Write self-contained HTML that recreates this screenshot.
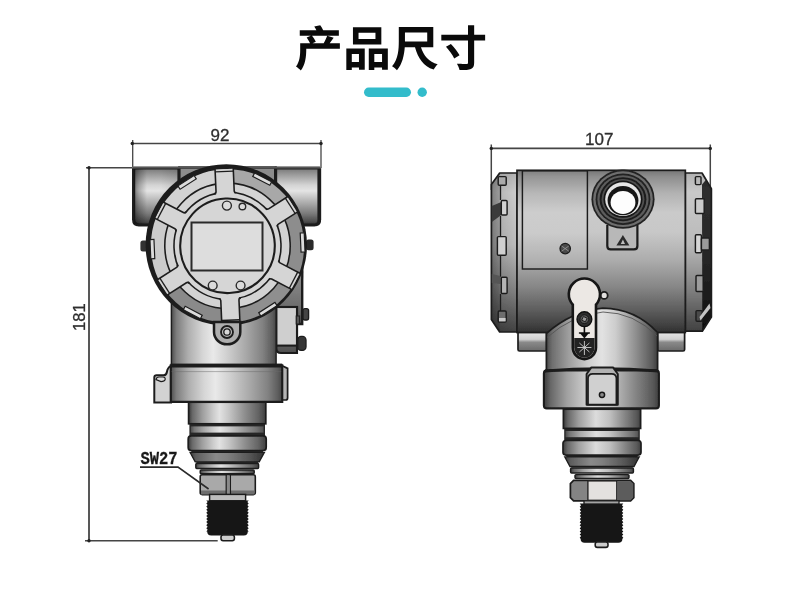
<!DOCTYPE html>
<html><head><meta charset="utf-8"><title>产品尺寸</title>
<style>
html,body{margin:0;padding:0;background:#fff;}
body{width:790px;height:609px;overflow:hidden;font-family:"Liberation Sans",sans-serif;}
svg{display:block}
</style></head><body>
<svg width="790" height="609" viewBox="0 0 790 609">
<defs><linearGradient id="cyl" x1="0" y1="0" x2="1" y2="0"><stop offset="0" stop-color="#4e4e4e"/><stop offset="0.05" stop-color="#7d7d7d"/><stop offset="0.16" stop-color="#aeaeae"/><stop offset="0.3" stop-color="#d6d6d6"/><stop offset="0.4" stop-color="#e9e9e9"/><stop offset="0.52" stop-color="#d2d2d2"/><stop offset="0.72" stop-color="#a6a6a6"/><stop offset="0.87" stop-color="#828282"/><stop offset="0.96" stop-color="#5e5e5e"/><stop offset="1" stop-color="#464646"/></linearGradient><linearGradient id="cyl2" x1="0" y1="0" x2="1" y2="0"><stop offset="0" stop-color="#3a3a3a"/><stop offset="0.05" stop-color="#686868"/><stop offset="0.18" stop-color="#9e9e9e"/><stop offset="0.32" stop-color="#cccccc"/><stop offset="0.4" stop-color="#e2e2e2"/><stop offset="0.52" stop-color="#c6c6c6"/><stop offset="0.72" stop-color="#909090"/><stop offset="0.9" stop-color="#646464"/><stop offset="1" stop-color="#404040"/></linearGradient><linearGradient id="portL" x1="0" y1="0" x2="1" y2="0"><stop offset="0" stop-color="#3c3c3c"/><stop offset="0.07" stop-color="#6e6e6e"/><stop offset="0.2" stop-color="#b8b8b8"/><stop offset="0.32" stop-color="#e2e2e2"/><stop offset="0.5" stop-color="#c2c2c2"/><stop offset="0.8" stop-color="#9a9a9a"/><stop offset="1" stop-color="#8c8c8c"/></linearGradient><linearGradient id="portR" x1="0" y1="0" x2="1" y2="0"><stop offset="0" stop-color="#9a9a9a"/><stop offset="0.25" stop-color="#d2d2d2"/><stop offset="0.4" stop-color="#d8d8d8"/><stop offset="0.65" stop-color="#a0a0a0"/><stop offset="0.88" stop-color="#5c5c5c"/><stop offset="1" stop-color="#3a3a3a"/></linearGradient><linearGradient id="portV" x1="0" y1="0" x2="0" y2="1"><stop offset="0" stop-color="rgba(0,0,0,0.18)"/><stop offset="0.15" stop-color="rgba(0,0,0,0)"/><stop offset="0.8" stop-color="rgba(0,0,0,0)"/><stop offset="1" stop-color="rgba(0,0,0,0.45)"/></linearGradient><linearGradient id="cover" x1="0" y1="0" x2="1" y2="0"><stop offset="0" stop-color="#c9c9c9"/><stop offset="0.5" stop-color="#c4c4c4"/><stop offset="0.75" stop-color="#a4a4a4"/><stop offset="1" stop-color="#8a8a8a"/></linearGradient><linearGradient id="pocket" x1="0" y1="0" x2="1" y2="0"><stop offset="0" stop-color="#d2d2d2"/><stop offset="0.45" stop-color="#cdcdcd"/><stop offset="0.7" stop-color="#a8a8a8"/><stop offset="1" stop-color="#878787"/></linearGradient><linearGradient id="bodyV" x1="0" y1="0" x2="0" y2="1"><stop offset="0" stop-color="#6a6a6a"/><stop offset="0.04" stop-color="#8c8c8c"/><stop offset="0.15" stop-color="#b4b4b4"/><stop offset="0.3" stop-color="#cfcfcf"/><stop offset="0.42" stop-color="#c6c6c6"/><stop offset="0.6" stop-color="#9c9c9c"/><stop offset="0.8" stop-color="#666"/><stop offset="0.95" stop-color="#3c3c3c"/><stop offset="1" stop-color="#2e2e2e"/></linearGradient><linearGradient id="capV" x1="0" y1="0" x2="0" y2="1"><stop offset="0" stop-color="#777"/><stop offset="0.1" stop-color="#a2a2a2"/><stop offset="0.3" stop-color="#c4c4c4"/><stop offset="0.5" stop-color="#b0b0b0"/><stop offset="0.8" stop-color="#707070"/><stop offset="1" stop-color="#444"/></linearGradient><linearGradient id="nutL" x1="0" y1="0" x2="1" y2="0"><stop offset="0" stop-color="#8c8c8c"/><stop offset="0.45" stop-color="#b4b4b4"/><stop offset="0.5" stop-color="#9c9c9c"/><stop offset="1" stop-color="#a6a6a6"/></linearGradient><linearGradient id="neckR" x1="0" y1="0" x2="1" y2="0"><stop offset="0" stop-color="#3c3c3c"/><stop offset="0.06" stop-color="#686868"/><stop offset="0.2" stop-color="#a0a0a0"/><stop offset="0.42" stop-color="#dcdcdc"/><stop offset="0.6" stop-color="#c0c0c0"/><stop offset="0.8" stop-color="#848484"/><stop offset="0.95" stop-color="#585858"/><stop offset="1" stop-color="#404040"/></linearGradient><linearGradient id="portV2" x1="0" y1="0" x2="0" y2="1"><stop offset="0" stop-color="#767676"/><stop offset="0.12" stop-color="#9c9c9c"/><stop offset="0.3" stop-color="#d4d4d4"/><stop offset="0.4" stop-color="#e4e4e4"/><stop offset="0.55" stop-color="#bcbcbc"/><stop offset="0.8" stop-color="#7a7a7a"/><stop offset="0.94" stop-color="#4c4c4c"/><stop offset="1" stop-color="#2c2c2c"/></linearGradient><linearGradient id="portSideL" x1="0" y1="0" x2="1" y2="0"><stop offset="0" stop-color="rgba(0,0,0,0.45)"/><stop offset="0.1" stop-color="rgba(0,0,0,0.25)"/><stop offset="0.28" stop-color="rgba(0,0,0,0)"/><stop offset="0.6" stop-color="rgba(0,0,0,0)"/><stop offset="1" stop-color="rgba(0,0,0,0.10)"/></linearGradient><linearGradient id="portSideR" x1="0" y1="0" x2="1" y2="0"><stop offset="0" stop-color="rgba(0,0,0,0.1)"/><stop offset="0.3" stop-color="rgba(0,0,0,0)"/><stop offset="0.6" stop-color="rgba(0,0,0,0.05)"/><stop offset="0.88" stop-color="rgba(0,0,0,0.36)"/><stop offset="1" stop-color="rgba(0,0,0,0.55)"/></linearGradient><linearGradient id="hbandV" x1="0" y1="0" x2="0" y2="1"><stop offset="0" stop-color="#7c7c7c"/><stop offset="0.5" stop-color="#8c8c8c"/><stop offset="0.8" stop-color="#707070"/><stop offset="1" stop-color="#505050"/></linearGradient><linearGradient id="tboxB" x1="0" y1="0" x2="0" y2="1"><stop offset="0" stop-color="#a2a2a2"/><stop offset="1" stop-color="#4e4e4e"/></linearGradient><linearGradient id="taperH" x1="0" y1="0" x2="1" y2="0"><stop offset="0" stop-color="#3a3a3a"/><stop offset="0.08" stop-color="#5e5e5e"/><stop offset="0.35" stop-color="#8a8a8a"/><stop offset="0.5" stop-color="#808080"/><stop offset="0.8" stop-color="#565656"/><stop offset="1" stop-color="#333"/></linearGradient><linearGradient id="bodyV2" x1="0" y1="0" x2="0" y2="1"><stop offset="0" stop-color="#767676"/><stop offset="0.04" stop-color="#8e8e8e"/><stop offset="0.14" stop-color="#b2b2b2"/><stop offset="0.26" stop-color="#cacaca"/><stop offset="0.38" stop-color="#c8c8c8"/><stop offset="0.55" stop-color="#adadad"/><stop offset="0.72" stop-color="#868686"/><stop offset="0.86" stop-color="#5e5e5e"/><stop offset="0.95" stop-color="#424242"/><stop offset="1" stop-color="#303030"/></linearGradient><linearGradient id="capL" x1="0" y1="0" x2="1" y2="0"><stop offset="0" stop-color="#808080"/><stop offset="0.3" stop-color="#9a9a9a"/><stop offset="0.36" stop-color="#b8b8b8"/><stop offset="1" stop-color="#cdcdcd"/></linearGradient><linearGradient id="capShade" x1="0" y1="0" x2="0" y2="1"><stop offset="0" stop-color="rgba(0,0,0,0.12)"/><stop offset="0.12" stop-color="rgba(0,0,0,0)"/><stop offset="0.45" stop-color="rgba(0,0,0,0.08)"/><stop offset="0.75" stop-color="rgba(0,0,0,0.38)"/><stop offset="1" stop-color="rgba(0,0,0,0.68)"/></linearGradient><linearGradient id="footV" x1="0" y1="0" x2="0" y2="1"><stop offset="0" stop-color="#9a9a9a"/><stop offset="0.12" stop-color="#e2e2e2"/><stop offset="0.4" stop-color="#d0d0d0"/><stop offset="0.55" stop-color="#8a8a8a"/><stop offset="1" stop-color="#6a6a6a"/></linearGradient><linearGradient id="domeH" x1="0" y1="0" x2="1" y2="0"><stop offset="0" stop-color="#4a4a4a"/><stop offset="0.05" stop-color="#6e6e6e"/><stop offset="0.2" stop-color="#9e9e9e"/><stop offset="0.38" stop-color="#cfcfcf"/><stop offset="0.5" stop-color="#e2e2e2"/><stop offset="0.62" stop-color="#cdcdcd"/><stop offset="0.8" stop-color="#909090"/><stop offset="0.95" stop-color="#5a5a5a"/><stop offset="1" stop-color="#3e3e3e"/></linearGradient><filter id="soft" x="-2%" y="-2%" width="104%" height="104%"><feGaussianBlur stdDeviation="0.45"/></filter></defs>
<rect width="790" height="609" fill="#ffffff"/>
<path transform="translate(294.85,65.7) scale(0.0481,-0.0475)" d="M403 824C419 801 435 773 448 746H102V632H332L246 595C272 558 301 510 317 472H111V333C111 231 103 87 24 -16C51 -31 105 -78 125 -102C218 17 237 205 237 331V355H936V472H724L807 589L672 631C656 583 626 518 599 472H367L436 503C421 540 388 592 357 632H915V746H590C577 778 552 822 527 854Z" fill="#0a0a0a"/>
<path transform="translate(342.95,65.7) scale(0.0481,-0.0475)" d="M324 695H676V561H324ZM208 810V447H798V810ZM70 363V-90H184V-39H333V-84H453V363ZM184 76V248H333V76ZM537 363V-90H652V-39H813V-85H933V363ZM652 76V248H813V76Z" fill="#0a0a0a"/>
<path transform="translate(391.05,65.7) scale(0.0481,-0.0475)" d="M161 816V517C161 357 151 138 21 -9C49 -24 103 -69 123 -94C235 33 273 226 285 390H498C563 156 672 -6 887 -82C905 -48 942 4 970 29C784 85 676 214 622 390H878V816ZM289 699H752V507H289V517Z" fill="#0a0a0a"/>
<path transform="translate(439.15,65.7) scale(0.0481,-0.0475)" d="M142 397C210 322 285 218 313 150L424 219C392 290 313 388 245 459ZM600 849V649H45V529H600V69C600 46 590 38 566 38C539 38 454 37 370 41C391 6 416 -55 424 -92C530 -93 611 -88 661 -68C710 -48 728 -13 728 68V529H956V649H728V849Z" fill="#0a0a0a"/>
<rect x="364" y="87.6" width="47" height="9.4" rx="4.7" fill="#33bccb"/>
<circle cx="422.2" cy="92.2" r="4.7" fill="#33bccb"/>
<g filter="url(#soft)"><line x1="132.3" y1="143.5" x2="321" y2="143.5" stroke="#454545" stroke-width="1.7"/>
<line x1="132.7" y1="140" x2="132.7" y2="168" stroke="#454545" stroke-width="1.3"/>
<line x1="321" y1="140" x2="321" y2="168" stroke="#454545" stroke-width="1.3"/>
<circle cx="132.3" cy="143.5" r="1.7" fill="#222"/><circle cx="321" cy="143.5" r="1.7" fill="#222"/>
<text x="220" y="140.5" font-family="&quot;Liberation Sans&quot;, sans-serif" font-size="17" font-weight="normal" text-anchor="middle" fill="#2e2e2e" stroke="#2e2e2e" stroke-width="0.3">92</text>
<line x1="89" y1="167.8" x2="89" y2="540.8" stroke="#454545" stroke-width="1.8"/>
<line x1="86" y1="167.8" x2="133" y2="167.8" stroke="#454545" stroke-width="1.5"/>
<line x1="85" y1="540.8" x2="217.7" y2="540.8" stroke="#454545" stroke-width="1.5"/>
<circle cx="89" cy="167.8" r="1.7" fill="#222"/><circle cx="89" cy="540.8" r="1.7" fill="#222"/>
<text x="84.8" y="317.2" font-family="&quot;Liberation Sans&quot;, sans-serif" font-size="16.6" font-weight="normal" text-anchor="middle" fill="#2e2e2e" stroke="#2e2e2e" stroke-width="0.3" transform="rotate(-90 84.8 317.2)">181</text>
<rect x="179" y="167" width="97" height="40" fill="#8c8c8c" stroke="#1e1e1e" stroke-width="1.58"/>
<path d="M133.6 168 H179 V225 H139 Q133.6 225 133.6 219.6 Z" fill="url(#portV2)" stroke="#1e1e1e" stroke-width="3.17" stroke-linejoin="round"/>
<path d="M275.6 168 H319.6 V219.6 Q319.6 225 314.2 225 H275.6 Z" fill="url(#portV2)" stroke="#1e1e1e" stroke-width="3.17" stroke-linejoin="round"/>
<rect x="134.6" y="169" width="44" height="55" fill="url(#portSideL)"/>
<rect x="317.4" y="168" width="3.4" height="54" fill="#1e1e1e"/>
<rect x="132.4" y="166.9" width="188.4" height="1.6" fill="#fff"/>
<line x1="132.4" y1="168" x2="320.8" y2="168" stroke="#1e1e1e" stroke-width="1.45"/>
<path d="M276 225 H298 Q303 250 302.2 280 V324 H276 Z" fill="url(#hbandV)" stroke="#1e1e1e" stroke-width="2.38"/>
<rect x="140.4" y="240.6" width="8" height="11" rx="2.5" fill="#333"/>
<rect x="306" y="239.4" width="7.6" height="10.8" rx="2.5" fill="#2a2a2a"/>
<rect x="303" y="308.6" width="5.6" height="11.4" rx="2" fill="#444" stroke="#1e1e1e" stroke-width="1.32"/>
<rect x="297.6" y="336.4" width="8.4" height="14" rx="3.6" fill="#363636" stroke="#1e1e1e" stroke-width="1.32"/>
<path d="M276.4 307 H297 V353 H281 Q276.4 353 276.4 348.5 Z" fill="url(#tboxB)" stroke="#1e1e1e" stroke-width="2.11"/>
<rect x="276.4" y="307" width="20.6" height="38.6" fill="#cfcfcf" stroke="#1e1e1e" stroke-width="2.11"/>
<rect x="296.2" y="316" width="3.4" height="8" fill="#555" stroke="#1e1e1e" stroke-width="1.06"/>
<rect x="171.4" y="296" width="104.7" height="70" fill="url(#cyl)" stroke="#1e1e1e" stroke-width="1.45"/>
<circle cx="226.3" cy="244.9" r="80.7" fill="#1c1c1c"/>
<g transform="translate(227.5,245.8) rotate(-2.5)">
<circle r="77.4" fill="#c8c8c8"/>
<path d="M0 0 L-0.68 -77.40 A77.4 77.4 0 0 1 67.37 -38.11 Z" fill="#a8a8a8"/>
<path d="M0 0 L66.69 -39.28 A77.4 77.4 0 0 1 66.69 39.28 Z" fill="#8d8d8d"/>
<path d="M0 0 L67.37 38.11 A77.4 77.4 0 0 1 -0.68 77.40 Z" fill="#8f8f8f"/>
<path d="M0 0 L0.68 77.40 A77.4 77.4 0 0 1 -67.37 38.11 Z" fill="#8a8a8a"/>
<path d="M0 0 L-66.69 39.28 A77.4 77.4 0 0 1 -66.69 -39.28 Z" fill="#cbcbcb"/>
<path d="M0 0 L-67.37 -38.11 A77.4 77.4 0 0 1 0.68 -77.40 Z" fill="#d2d2d2"/>
<circle r="77.4" fill="none" stroke="#1e1e1e" stroke-width="1.72"/>
<circle r="62.7" fill="#d3d3d3" stroke="#1e1e1e" stroke-width="1.58"/>
<circle r="53.5" fill="#d5d5d5" stroke="#1e1e1e" stroke-width="1.58"/>
<g transform="rotate(0)"><rect x="-9.1" y="-76.80000000000001" width="18.2" height="29.400000000000006" fill="#d5d5d5"/><path d="M-9.1 -77.4 V-54.5 Q-9.1 -52.8 -11.1 -52.6 M9.1 -77.4 V-54.5 Q9.1 -52.8 11.1 -52.6" stroke="#1e1e1e" stroke-width="1.58" fill="none"/><path d="M-9.1 -74.4 H9.1" stroke="#1e1e1e" stroke-width="1.32"/></g>
<g transform="rotate(60)"><rect x="-9.1" y="-76.80000000000001" width="18.2" height="29.400000000000006" fill="#d5d5d5"/><path d="M-9.1 -77.4 V-54.5 Q-9.1 -52.8 -11.1 -52.6 M9.1 -77.4 V-54.5 Q9.1 -52.8 11.1 -52.6" stroke="#1e1e1e" stroke-width="1.58" fill="none"/><path d="M-9.1 -74.4 H9.1" stroke="#1e1e1e" stroke-width="1.32"/></g>
<g transform="rotate(120)"><rect x="-9.1" y="-76.80000000000001" width="18.2" height="29.400000000000006" fill="#d5d5d5"/><path d="M-9.1 -77.4 V-54.5 Q-9.1 -52.8 -11.1 -52.6 M9.1 -77.4 V-54.5 Q9.1 -52.8 11.1 -52.6" stroke="#1e1e1e" stroke-width="1.58" fill="none"/><path d="M-9.1 -74.4 H9.1" stroke="#1e1e1e" stroke-width="1.32"/></g>
<g transform="rotate(180)"><rect x="-9.1" y="-76.80000000000001" width="18.2" height="29.400000000000006" fill="#d5d5d5"/><path d="M-9.1 -77.4 V-54.5 Q-9.1 -52.8 -11.1 -52.6 M9.1 -77.4 V-54.5 Q9.1 -52.8 11.1 -52.6" stroke="#1e1e1e" stroke-width="1.58" fill="none"/><path d="M-9.1 -74.4 H9.1" stroke="#1e1e1e" stroke-width="1.32"/></g>
<g transform="rotate(240)"><rect x="-9.1" y="-76.80000000000001" width="18.2" height="29.400000000000006" fill="#d5d5d5"/><path d="M-9.1 -77.4 V-54.5 Q-9.1 -52.8 -11.1 -52.6 M9.1 -77.4 V-54.5 Q9.1 -52.8 11.1 -52.6" stroke="#1e1e1e" stroke-width="1.58" fill="none"/><path d="M-9.1 -74.4 H9.1" stroke="#1e1e1e" stroke-width="1.32"/></g>
<g transform="rotate(300)"><rect x="-9.1" y="-76.80000000000001" width="18.2" height="29.400000000000006" fill="#d5d5d5"/><path d="M-9.1 -77.4 V-54.5 Q-9.1 -52.8 -11.1 -52.6 M9.1 -77.4 V-54.5 Q9.1 -52.8 11.1 -52.6" stroke="#1e1e1e" stroke-width="1.58" fill="none"/><path d="M-9.1 -74.4 H9.1" stroke="#1e1e1e" stroke-width="1.32"/></g>
<g transform="rotate(30)"><rect x="-9.6" y="-77.2" width="19.2" height="4" fill="#dcdcdc" stroke="#1e1e1e" stroke-width="1.19"/></g>
<g transform="rotate(90)"><rect x="-9.6" y="-77.2" width="19.2" height="4" fill="#dcdcdc" stroke="#1e1e1e" stroke-width="1.19"/></g>
<g transform="rotate(150)"><rect x="-9.6" y="-77.2" width="19.2" height="4" fill="#dcdcdc" stroke="#1e1e1e" stroke-width="1.19"/></g>
<g transform="rotate(210)"><rect x="-9.6" y="-77.2" width="19.2" height="4" fill="#dcdcdc" stroke="#1e1e1e" stroke-width="1.19"/></g>
<g transform="rotate(270)"><rect x="-9.6" y="-77.2" width="19.2" height="4" fill="#dcdcdc" stroke="#1e1e1e" stroke-width="1.19"/></g>
<g transform="rotate(330)"><rect x="-9.6" y="-77.2" width="19.2" height="4" fill="#dcdcdc" stroke="#1e1e1e" stroke-width="1.19"/></g>
<circle r="47.3" fill="#d6d6d6" stroke="#1e1e1e" stroke-width="2.11"/>
</g>
<rect x="191.5" y="222.5" width="71" height="48" fill="#dddddd" stroke="#2a2a2a" stroke-width="2"/>
<circle cx="226.9" cy="205.6" r="4.5" fill="#dbdbdb" stroke="#2a2a2a" stroke-width="1.4"/>
<circle cx="242.4" cy="206.5" r="3.3" fill="#dbdbdb" stroke="#2a2a2a" stroke-width="1.4"/>
<circle cx="212.7" cy="285.5" r="4.4" fill="#dbdbdb" stroke="#2a2a2a" stroke-width="1.4"/>
<circle cx="240.6" cy="285.5" r="4.4" fill="#dbdbdb" stroke="#2a2a2a" stroke-width="1.4"/>
<path d="M214 322 V332 A13.1 12.3 0 0 0 240.3 332 V322 Z" fill="#aeaeae" stroke="#1e1e1e" stroke-width="2.51"/>
<circle cx="227" cy="332" r="6" fill="#b8b8b8" stroke="#1e1e1e" stroke-width="1.85"/><circle cx="227" cy="332" r="3.2" fill="#d8d8d8" stroke="#1e1e1e" stroke-width="1.32"/>
<path d="M154.3 377.6 Q154.3 375.3 156.6 375.3 H163.6 Q166.4 375.3 166.9 372 Q167.6 367.4 171 365.8 V402.4 H154.3 Z" fill="#d2d2d2" stroke="#1e1e1e" stroke-width="1.98"/>
<path d="M156 379.6 Q156.4 377 159 377 H163 Q165.4 377.2 165.2 379.4 Q164.6 381.6 161 381.6 Z" fill="#dcdcdc" stroke="#1e1e1e" stroke-width="1.19"/>
<path d="M281.6 365.4 L287.6 368.4 V398 Q287.6 400 285.6 400 H281.6 Z" fill="#b4b4b4" stroke="#1e1e1e" stroke-width="1.72"/>
<path d="M170.8 365.4 H282.2 V401.8 H170.8 Z" fill="url(#cyl)" stroke="#1e1e1e" stroke-width="2.24"/>
<rect x="170.6" y="363.6" width="111.6" height="3.9" fill="#1c1c1c"/>
<path d="M171.4 371.6 H281.4" fill="none" stroke="#6a6a6a" stroke-width="0.8" opacity="0.6"/>
<rect x="189.4" y="422.8" width="75.60000000000001" height="15" fill="#262626"/><rect x="188.6" y="402.2" width="77.2" height="21.6" fill="url(#cyl2)" stroke="#1e1e1e" stroke-width="1.72"/><rect x="190.79999999999998" y="426.40000000000003" width="72.8" height="6.2" fill="url(#cyl2)"/><rect x="190.79999999999998" y="426.40000000000003" width="72.8" height="6.2" fill="rgba(255,255,255,0.10)"/><path d="M190.6 449.90000000000003 L196.6 462.90000000000003 H257.8 L263.8 449.90000000000003 Z" fill="#262626"/><rect x="188.2" y="435.90000000000003" width="78.0" height="14.6" rx="3" fill="url(#cyl2)" stroke="#1e1e1e" stroke-width="1.72"/><path d="M190.0 452.30000000000007 L195.2 461.9000000000001 H259.2 L264.40000000000003 452.30000000000007 Z" fill="url(#taperH)" stroke="#1e1e1e" stroke-width="1.32"/><rect x="195.79999999999998" y="463.4000000000001" width="62.800000000000004" height="5" rx="1" fill="url(#cyl2)" stroke="#1e1e1e" stroke-width="1.45"/><rect x="200.2" y="470.0000000000001" width="54.0" height="3.8" rx="1" fill="url(#cyl2)" stroke="#1e1e1e" stroke-width="1.45"/>
<rect x="200.2" y="474.8" width="55.1" height="19.8" rx="2" fill="#a9a9a9" stroke="#1e1e1e" stroke-width="1.58"/>
<rect x="201" y="490.5" width="53.5" height="4" fill="#6e6e6e"/>
<path d="M226.3 475 V494 M230.3 475 V494" stroke="#1e1e1e" stroke-width="1.45"/>
<rect x="226.8" y="475.5" width="3" height="18.5" fill="#8a8a8a"/>
<rect x="209.6" y="494.4" width="36" height="6.4" fill="#bdbdbd" stroke="#1e1e1e" stroke-width="1.45"/>
<path d="M207.2 500.4 L206.3 500.4 L207.7 501.9 L206.3 503.5 L207.7 505.1 L206.3 506.6 L207.7 508.2 L206.3 509.7 L207.7 511.3 L206.3 512.8 L207.7 514.4 L206.3 515.9 L207.7 517.4 L206.3 519.0 L207.7 520.5 L206.3 522.1 L207.7 523.6 L206.3 525.2 L207.7 526.7 L206.3 528.3 L207.7 529.8 L206.3 531.4 L207.2 531.6 Q207.2 535.6 211.2 535.6 H243.8 Q247.8 535.6 247.8 531.6 L248.7 531.4 L247.3 529.8 L248.7 528.3 L247.3 526.7 L248.7 525.2 L247.3 523.6 L248.7 522.1 L247.3 520.5 L248.7 519.0 L247.3 517.4 L248.7 515.9 L247.3 514.4 L248.7 512.8 L247.3 511.3 L248.7 509.7 L247.3 508.2 L248.7 506.6 L247.3 505.1 L248.7 503.5 L247.3 501.9 L248.7 500.4 L247.8 500.4 Z" fill="#161616"/>
<rect x="221" y="535" width="13.4" height="5.8" rx="2.2" fill="#cdcdcd" stroke="#1e1e1e" stroke-width="1.58"/>
<g transform="translate(140.4,464.3) scale(0.84,1)">
<text x="0" y="0" font-family="&quot;Liberation Mono&quot;, sans-serif" font-size="18.4" font-weight="bold" text-anchor="start" fill="#1a1a1a" stroke="#1a1a1a" stroke-width="0.3">SW27</text>
</g>
<path d="M140 467.1 H178 L208.6 489" fill="none" stroke="#2a2a2a" stroke-width="1.6"/>
<line x1="491.3" y1="148.4" x2="710.3" y2="148.4" stroke="#454545" stroke-width="1.7"/>
<line x1="491.3" y1="144.5" x2="491.3" y2="190" stroke="#454545" stroke-width="1.5"/>
<line x1="710.3" y1="144.5" x2="710.3" y2="192" stroke="#454545" stroke-width="1.5"/>
<circle cx="491.3" cy="148.4" r="1.7" fill="#222"/><circle cx="710.3" cy="148.4" r="1.7" fill="#222"/>
<text x="599.2" y="144.9" font-family="&quot;Liberation Sans&quot;, sans-serif" font-size="17" font-weight="normal" text-anchor="middle" fill="#2e2e2e" stroke="#2e2e2e" stroke-width="0.3">107</text>
<rect x="518" y="331.6" width="28.6" height="19.4" rx="1.5" fill="url(#footV)" stroke="#1e1e1e" stroke-width="1.72"/>
<rect x="657.6" y="331.6" width="27" height="19.4" rx="1.5" fill="url(#footV)" stroke="#1e1e1e" stroke-width="1.72"/>
<path d="M499.7 173 H517 V332 H499.7 L491.4 319.5 V184.6 Z" fill="url(#capL)"/>
<path d="M499.7 173 H517 V332 H499.7 L491.4 319.5 V184.6 Z" fill="url(#capShade)" stroke="#1e1e1e" stroke-width="1.72" stroke-linejoin="round"/>
<path d="M500.5 186 V200 M500.5 216 V237 M500.5 256 V277 M500.5 294 V311" stroke="#1e1e1e" stroke-width="1.32"/>
<path d="M491.8 206 L501.3 202 V215 L491.8 222 Z" fill="#3a3a3a"/>
<path d="M491.8 274 L500.5 276 V284 L491.8 283 Z" fill="#555"/>
<rect x="498.2" y="176.6" width="8" height="8.6" rx="1" fill="#aaa" stroke="#1e1e1e" stroke-width="1.45"/>
<rect x="501.3" y="200.4" width="5.8" height="14.6" rx="1" fill="#d2d2d2" stroke="#1e1e1e" stroke-width="1.45"/>
<rect x="497.4" y="236.6" width="8.8" height="18.6" rx="1" fill="#d0d0d0" stroke="#1e1e1e" stroke-width="1.45"/>
<rect x="501.3" y="277.2" width="5.8" height="16.2" rx="1" fill="#b4b4b4" stroke="#1e1e1e" stroke-width="1.45"/>
<rect x="498.2" y="311" width="8" height="11" rx="1" fill="#6e6e6e" stroke="#1e1e1e" stroke-width="1.45"/>
<rect x="499" y="318" width="6.6" height="3.4" fill="#c8c8c8"/>
<path d="M685.3 173 H702 L711.4 188.7 V317 L702.3 331.2 H685.3 Z" fill="#c9c9c9"/>
<path d="M702 184.6 L706 179.8 L711.4 188.7 V317 L702.3 331.2 Z" fill="#2e2e2e"/>
<path d="M685.3 173 H702 L711.4 188.7 V317 L702.3 331.2 H685.3 Z" fill="url(#capShade)" stroke="#1e1e1e" stroke-width="1.72" stroke-linejoin="round"/>
<rect x="695.4" y="176.6" width="5.6" height="8" rx="1" fill="#b8b8b8" stroke="#1e1e1e" stroke-width="1.45"/>
<rect x="695.4" y="198.8" width="8.8" height="14.6" rx="1" fill="#cbcbcb" stroke="#1e1e1e" stroke-width="1.45"/>
<rect x="695.4" y="234.8" width="6" height="18" rx="1" fill="#d6d6d6" stroke="#1e1e1e" stroke-width="1.45"/>
<rect x="701.4" y="238" width="8" height="12" rx="1" fill="#9a9a9a" stroke="#1e1e1e" stroke-width="1.45"/>
<rect x="696" y="275.4" width="7.2" height="16" rx="1" fill="#9c9c9c" stroke="#1e1e1e" stroke-width="1.45"/>
<rect x="696" y="310.6" width="6.2" height="10.6" rx="1" fill="#4a4a4a" stroke="#1e1e1e" stroke-width="1.45"/>
<path d="M709.5 303.5 L710.5 308 L700.5 320.5 L699.5 317 Z" fill="#c4c4c4"/>
<rect x="517" y="170.3" width="168.3" height="162.2" fill="url(#bodyV2)" stroke="#1e1e1e" stroke-width="1.72"/>
<rect x="522.4" y="170.8" width="65" height="98.2" fill="rgba(255,255,255,0.07)" stroke="#1e1e1e" stroke-width="1.45"/>
<circle cx="565.2" cy="248.6" r="5.2" fill="#4a4a4a" stroke="#1e1e1e" stroke-width="1.32"/>
<path d="M561.6 246 L568.8 251.2 M561.6 251.2 L568.8 246" stroke="#999" stroke-width="0.8"/>
<path d="M607.3 225 V246 Q607.3 249.4 610.7 249.4 H634 Q637.4 249.4 637.4 246 V225" fill="#b8b8b8" stroke="#1a1a1a" stroke-width="2.2"/>
<path d="M622.9 235 L629.4 245.6 H616.4 Z" fill="#2c2c2c"/>
<path d="M622.9 239.5 L625 244 H620.8 Z" fill="#bdbdbd"/>
<ellipse cx="623.0" cy="199.2" rx="31.6" ry="29.6" fill="#242424"/>
<ellipse cx="623.0" cy="199.2" rx="29.8" ry="27.9" fill="#6e6e6e"/>
<ellipse cx="623.0" cy="199.2" rx="27.4" ry="25.7" fill="#202020"/>
<ellipse cx="623.0" cy="199.2" rx="25.6" ry="24.0" fill="#5c5c5c"/>
<ellipse cx="623.0" cy="199.2" rx="23.4" ry="22.0" fill="#1c1c1c"/>
<ellipse cx="623.0" cy="199.2" rx="21.4" ry="20.2" fill="#505050"/>
<ellipse cx="623.0" cy="199.2" rx="19.6" ry="18.6" fill="#181818"/>
<ellipse cx="623.0" cy="199.2" rx="17.8" ry="16.9" fill="#e6e6e6"/>
<ellipse cx="623.0" cy="200.6" rx="15.4" ry="14.7" fill="#141414"/>
<ellipse cx="623.0" cy="202.39999999999998" rx="12.4" ry="11.5" fill="#fdfdfd"/>
<path d="M546.4 372 V333.5 Q572 311 603 308.2 Q635 308.6 657.6 332.5 V372 Z" fill="url(#domeH)" stroke="#1e1e1e" stroke-width="1.72"/>
<path d="M547 337.5 Q572 315 603 312 Q634 312.5 657 336" fill="none" stroke="#555" stroke-width="0.9"/>
<circle cx="604.2" cy="295.4" r="3.5" fill="#e2e0de" stroke="#1e1e1e" stroke-width="1.85"/>
<path d="M572.8 304.6 V347.5 A11.6 11.6 0 0 0 596.0 347.5 V304.6 A15.6 15.6 0 1 0 572.8 304.6 Z" fill="#ece8e4" stroke="#141414" stroke-width="2.6"/>
<path d="M574.1999999999999 338 H594.6 V347.5 A10.2 10.2 0 0 1 574.1999999999999 347.5 Z" fill="#222"/>
<path d="M584.4 326 V333 M578.9 333 H589.9" stroke="#111" stroke-width="1.6"/>
<path d="M579.8 333 H589.0 L584.4 338.5 Z" fill="#111"/>
<path d="M579.4 343 L589.4 352 M589.4 343 L579.4 352 M584.4 341 V355 M577.4 347.5 H591.4" stroke="#cfcfcf" stroke-width="0.9"/>
<circle cx="584.4" cy="319.2" r="7.4" fill="#2e2e2e" stroke="#111" stroke-width="1.4"/>
<circle cx="584.4" cy="319.2" r="4.4" fill="#555" stroke="#161616" stroke-width="0.9"/>
<rect x="582.4" y="317.2" width="4" height="4" fill="#9a9a9a" stroke="#1a1a1a" stroke-width="0.8" transform="rotate(25 584.4 319.2)"/>
<rect x="543.9" y="370.4" width="115" height="38" rx="3" fill="url(#neckR)" stroke="#1e1e1e" stroke-width="2.11"/>
<path d="M545 372.4 Q601.5 367.6 658 372.4 V369.6 Q601.5 365 545 369.6 Z" fill="#1c1c1c"/>
<path d="M586.6 404.8 V374 L591.4 367.4 H613 L617.8 374 V404.8 Z" fill="#b2b2b2" stroke="#1e1e1e" stroke-width="1.98" stroke-linejoin="round"/>
<path d="M588 404.6 V378.6 Q588 373.8 592.8 373.8 H611.6 Q616.4 373.8 616.4 378.6 V404.6 Z" fill="#d0d0d0" stroke="#1e1e1e" stroke-width="1.72"/>
<circle cx="602" cy="394.8" r="2.6" fill="#8a8a8a" stroke="#161616" stroke-width="1.5"/>
<rect x="564.1999999999999" y="427.4" width="75.60000000000001" height="15" fill="#262626"/><rect x="563.4" y="409.2" width="77.2" height="19.2" fill="url(#neckR)" stroke="#1e1e1e" stroke-width="1.72"/><rect x="565.6" y="431.0" width="72.8" height="6.2" fill="url(#neckR)"/><rect x="565.6" y="431.0" width="72.8" height="6.2" fill="rgba(255,255,255,0.10)"/><path d="M565.4 454.5 L571.4 467.5 H632.6 L638.6 454.5 Z" fill="#262626"/><rect x="563.0" y="440.5" width="78.0" height="14.6" rx="3" fill="url(#neckR)" stroke="#1e1e1e" stroke-width="1.72"/><path d="M564.8 456.90000000000003 L570.0 466.50000000000006 H634.0 L639.2 456.90000000000003 Z" fill="url(#taperH)" stroke="#1e1e1e" stroke-width="1.32"/><rect x="570.6" y="468.00000000000006" width="62.800000000000004" height="5" rx="1" fill="url(#neckR)" stroke="#1e1e1e" stroke-width="1.45"/><rect x="575.0" y="474.6000000000001" width="54.0" height="3.8" rx="1" fill="url(#neckR)" stroke="#1e1e1e" stroke-width="1.45"/>
<path d="M570.4 483.6 L573.6 480.4 H630.6 L633.8 483.6 V497.6 L630.6 500.8 H573.6 L570.4 497.6 Z" fill="#848484" stroke="#1e1e1e" stroke-width="1.72"/>
<rect x="587.9" y="480.9" width="28.9" height="19.4" fill="#e3e1df" stroke="#1e1e1e" stroke-width="1.32"/>
<path d="M617.2 481.2 H630.4 L633.2 483.8 V497.4 L630.4 500.2 H617.2 Z" fill="#5c5c5c"/>
<rect x="584" y="500.8" width="35" height="3.6" fill="#a4a4a4" stroke="#1e1e1e" stroke-width="1.32"/>
<path d="M580.6 503.6 L579.7 503.6 L581.1 505.2 L579.7 506.7 L581.1 508.3 L579.7 509.8 L581.1 511.4 L579.7 512.9 L581.1 514.5 L579.7 516.0 L581.1 517.5 L579.7 519.1 L581.1 520.6 L579.7 522.2 L581.1 523.7 L579.7 525.3 L581.1 526.8 L579.7 528.4 L581.1 529.9 L579.7 531.5 L581.1 533.0 L579.7 534.6 L581.1 536.1 L579.7 537.7 L580.6 538.8 Q580.6 542.8 584.6 542.8 H618.4 Q622.4 542.8 622.4 538.8 L623.3 537.7 L621.9 536.1 L623.3 534.6 L621.9 533.0 L623.3 531.5 L621.9 529.9 L623.3 528.4 L621.9 526.8 L623.3 525.3 L621.9 523.7 L623.3 522.2 L621.9 520.6 L623.3 519.1 L621.9 517.5 L623.3 516.0 L621.9 514.5 L623.3 512.9 L621.9 511.4 L623.3 509.8 L621.9 508.3 L623.3 506.7 L621.9 505.2 L623.3 503.6 L622.4 503.6 Z" fill="#161616"/>
<rect x="595.2" y="542" width="12.8" height="5.4" rx="2.2" fill="#cdcdcd" stroke="#1e1e1e" stroke-width="1.58"/></g>
</svg>
</body></html>
